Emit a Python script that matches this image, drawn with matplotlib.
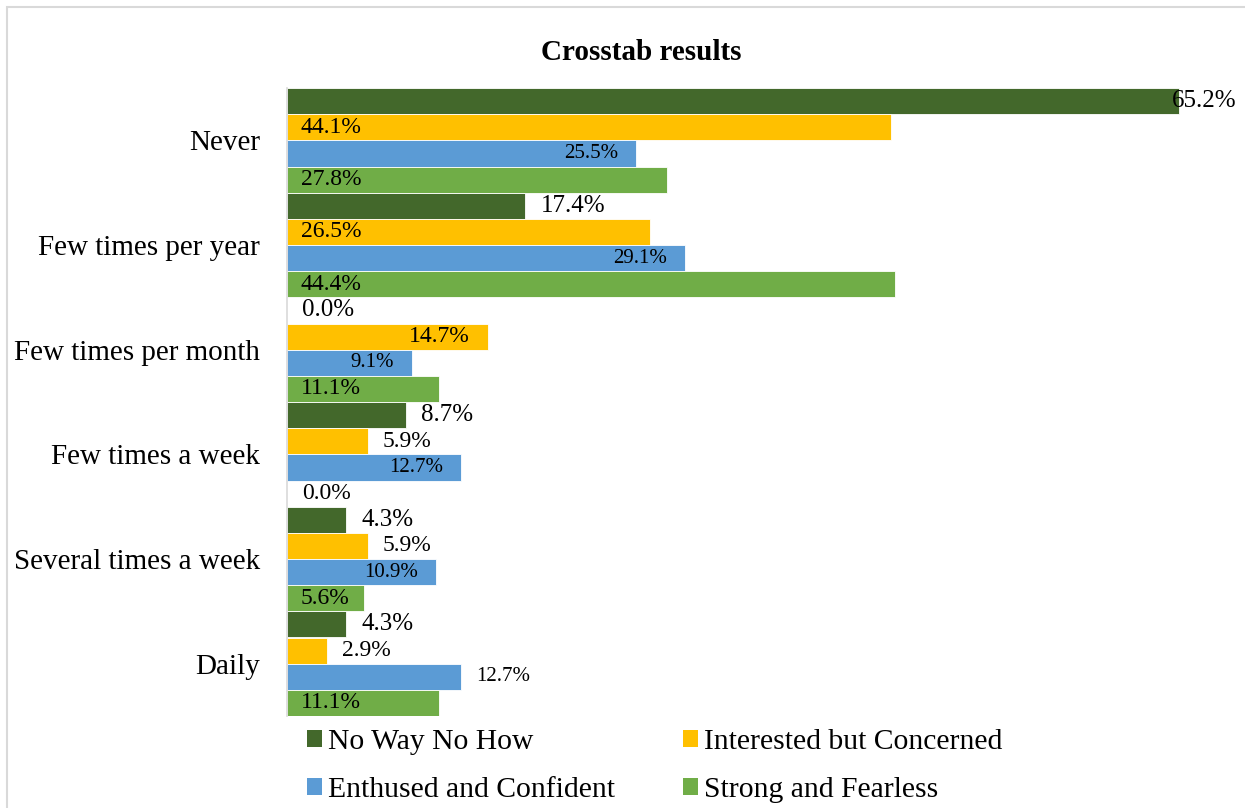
import matplotlib
matplotlib.use("Agg")
import matplotlib.pyplot as plt
from matplotlib.patches import Rectangle, Patch

plt.rcParams['font.family'] = ['Liberation Serif', 'DejaVu Serif']

categories = ["Never", "Few times per year", "Few times per month",
              "Few times a week", "Several times a week", "Daily"]
series_names = ["No Way No How", "Interested but Concerned",
                "Enthused and Confident", "Strong and Fearless"]
no_way_no_how = [65.2, 17.4, 0.0, 8.7, 4.3, 4.3]
interested_but_concerned = [44.1, 26.5, 14.7, 5.9, 5.9, 2.9]
enthused_and_confident = [25.5, 29.1, 9.1, 12.7, 10.9, 12.7]
strong_and_fearless = [27.8, 44.4, 11.1, 0.0, 5.6, 11.1]
series_values = [no_way_no_how, interested_but_concerned,
                 enthused_and_confident, strong_and_fearless]

colors = ["#43682B", "#FFC000", "#5B9BD5", "#70AD47"]
label_sizes = [18, 17, 15, 17]
# label placement per series/category: base, end, out
label_modes = [
    ["out", "out", "out", "out", "out", "out"],
    ["base", "base", "end", "out", "out", "out"],
    ["end", "end", "end", "end", "end", "out"],
    ["base", "base", "base", "out", "base", "base"],
]

W, H = 1245, 808
fig = plt.figure(figsize=(W / 100, H / 100), dpi=100)
ax = fig.add_axes([287 / W, 1 - 716 / H, (1245 - 287) / W, (716 - 88) / H])

bh = 0.25
offsets = [-0.375, -0.125, 0.125, 0.375]
for s, vals in enumerate(series_values):
    ys = [i + offsets[s] for i in range(len(categories))]
    ax.barh(ys, vals, height=bh, color=colors[s], edgecolor='white',
            linewidth=0.6, label=series_names[s])
    for i, v in enumerate(vals):
        mode = label_modes[s][i]
        txt = f"{v:.1f}%"
        y = ys[i]
        if mode == "base":
            ax.annotate(txt, (0, y), xytext=(10, 0), textcoords='offset points',
                        ha='left', va='center', fontsize=label_sizes[s])
        elif mode == "end":
            ax.annotate(txt, (v, y), xytext=(-13, 0), textcoords='offset points',
                        ha='right', va='center', fontsize=label_sizes[s])
        else:
            if v > 60:
                ax.annotate(txt, (0.991, y), xycoords=('axes fraction', 'data'),
                            ha='right', va='center', fontsize=label_sizes[s])
            else:
                ax.annotate(txt, (v, y), xytext=(11, 0), textcoords='offset points',
                            ha='left', va='center', fontsize=label_sizes[s])

ax.set_xlim(0, 70)
ax.set_ylim(len(categories) - 0.5, -0.5)
ax.set_yticks(range(len(categories)))
ax.set_yticklabels(categories, fontsize=21)
ax.tick_params(axis='y', length=0, pad=19.5)
ax.set_xticks([])
for sp in ['top', 'right', 'bottom']:
    ax.spines[sp].set_visible(False)
ax.spines['left'].set_color('#D9D9D9')
ax.spines['left'].set_linewidth(1.2)

fig.text(641 / W, 1 - 52 / H, "Crosstab results", ha='center', va='center',
         fontsize=21, fontweight='bold')

handles = [Patch(facecolor=c) for c in colors]
leg_kw = dict(loc='upper left', frameon=False, fontsize=21.3,
              handlelength=0.5, handleheight=0.5, handletextpad=0.2,
              labelspacing=0.75, borderaxespad=0, borderpad=0)
leg1 = fig.legend([handles[0], handles[2]], [series_names[0], series_names[2]],
                  bbox_to_anchor=(307 / W, 1 - 729 / H), **leg_kw)
leg2 = fig.legend([handles[1], handles[3]], [series_names[1], series_names[3]],
                  bbox_to_anchor=(683 / W, 1 - 729 / H), **leg_kw)

fig.patches.append(Rectangle((7 / W, -0.05), 1.2, 1 - 7 / H + 0.05,
                             transform=fig.transFigure, fill=False,
                             edgecolor='#D9D9D9', linewidth=1.5))

fig.savefig("out.png", dpi=100)
